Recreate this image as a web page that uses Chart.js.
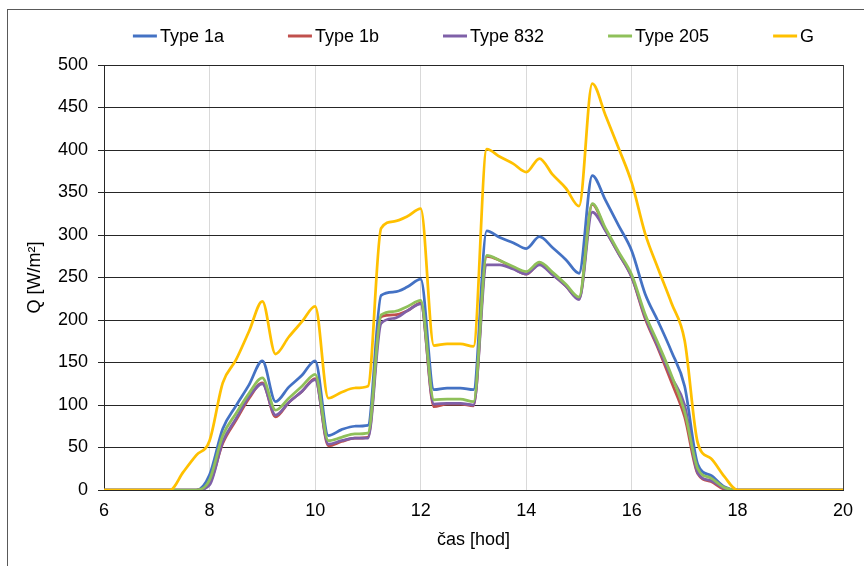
<!DOCTYPE html>
<html lang="cs">
<head>
    <meta charset="UTF-8" />
    <title>Q vs. čas</title>
    <style>
        body {
            margin: 0;
            background-color: #ffffff;
        }

        #wrap {
            width: 864px;
            height: 566px;
            position: relative;
        }
    </style>
</head>
<body>
<div id="wrap">
    <canvas id="chartContainer"></canvas>
</div>

<script src="https://cdn.jsdelivr.net/npm/chart.js"></script>
<script>
    // time of day [hod]
    const times = [6, 7, 7.25, 7.5, 7.75, 8, 8.25, 8.5, 8.75, 9, 9.25, 9.5, 9.75, 10,
        10.25, 10.5, 10.75, 11, 11.25, 11.5, 11.75, 12, 12.25, 12.5, 12.75, 13,
        13.25, 13.5, 13.75, 14, 14.25, 14.5, 14.75, 15, 15.25, 15.5, 15.75, 16,
        16.25, 16.5, 16.75, 17, 17.25, 17.5, 17.75, 18, 18.25, 19, 20];

    // Q [W/m2] per series
    const type1a = [0, 0, 0, 0, 0, 18, 72, 99, 124, 152, 104, 121, 135, 152,
        64, 71, 75, 76, 229, 233, 239, 248, 118, 120, 120, 118,
        305, 297, 291, 284, 298, 285, 271, 255, 370, 341, 311, 281,
        231, 198, 163, 122, 30, 17, 4, 0, 0, 0, 0];
    const type1b = [0, 0, 0, 0, 0, 8, 55, 82, 108, 126, 86, 103, 116, 131,
        52, 57, 61, 62, 204, 206, 211, 220, 98, 101, 101, 99,
        275, 270, 261, 254, 266, 254, 240, 225, 336, 306, 278, 250,
        202, 166, 127, 86, 19, 10, 1, 0, 0, 0, 0];
    const type832 = [0, 0, 0, 0, 0, 6, 57, 84, 110, 125, 88, 103, 116, 130,
        54, 58, 61, 61, 196, 202, 211, 219, 101, 102, 102, 100,
        265, 265, 260, 254, 265, 253, 240, 224, 327, 305, 278, 250,
        204, 168, 133, 100, 20, 11, 2, 0, 0, 0, 0];
    const type205 = [0, 0, 0, 0, 0, 12, 64, 90, 114, 132, 94, 108, 122, 136,
        58, 62, 66, 67, 206, 210, 216, 223, 106, 107, 107, 104,
        276, 270, 263, 257, 268, 256, 242, 227, 337, 308, 280, 253,
        207, 172, 135, 92, 25, 14, 3, 0, 0, 0, 0];
    const gValues = [0, 0, 0, 21, 41, 58, 126, 153, 187, 222, 160, 180, 198, 216,
        108, 115, 120, 122, 308, 316, 322, 331, 170, 172, 172, 169,
        401, 392, 384, 374, 390, 371, 355, 334, 478, 441, 402, 361,
        302, 260, 220, 176, 55, 37, 16, 0, 0, 0, 0];

    const seriesNames = ["Type 1a", "Type 1b", "Type 832", "Type 205", "G"];
    const seriesData = [type1a, type1b, type832, type205, gValues];
    const seriesColors = ["#4472C4", "#C0504D", "#7F60A8", "#8FC05A", "#FFC000"];

    const xTicks = [6, 8, 10, 12, 14, 16, 18, 20];
    const yTicks = [0, 50, 100, 150, 200, 250, 300, 350, 400, 450, 500];

    const FONT = "'Liberation Sans', Arial, sans-serif";
    const FONT_SIZE = 18;

    // outer frame of the chart object
    const framePlugin = {
        id: "frame",
        beforeDraw(chart) {
            const ctx = chart.ctx;
            ctx.save();
            ctx.fillStyle = "#ffffff";
            ctx.fillRect(0, 0, chart.width, chart.height);
            ctx.strokeStyle = "#595959";
            ctx.lineWidth = 1;
            ctx.strokeRect(7.5, 9.5, chart.width + 20, chart.height + 20);
            ctx.restore();
        },
    };

    // legend drawn like Excel: short line + label, centered over plot area
    const legendPlugin = {
        id: "excelLegend",
        afterDraw(chart) {
            const ctx = chart.ctx;
            const area = chart.chartArea;
            const lineLen = 24, gap = 3, spacing = 64, y = 36;
            ctx.save();
            ctx.font = FONT_SIZE + "px " + FONT;
            const widths = seriesNames.map(n => lineLen + gap + ctx.measureText(n).width);
            const total = widths.reduce((a, b) => a + b, 0) + spacing * (widths.length - 1);
            let x = (area.left + area.right) / 2 - total / 2;
            seriesNames.forEach((name, i) => {
                ctx.strokeStyle = seriesColors[i];
                ctx.lineWidth = 3;
                ctx.beginPath();
                ctx.moveTo(x, y);
                ctx.lineTo(x + lineLen, y);
                ctx.stroke();
                ctx.fillStyle = "#000000";
                ctx.textBaseline = "middle";
                ctx.textAlign = "left";
                ctx.fillText(name, x + lineLen + gap, y + 1);
                x += widths[i] + spacing;
            });
            ctx.restore();
        },
    };

    function drawChart() {
        const ctx = document.getElementById("chartContainer").getContext("2d");

        window.myChart = new Chart(ctx, {
            type: "line",
            data: {
                datasets: seriesNames.map((name, i) => ({
                    label: name,
                    data: times.map((t, j) => ({ x: t, y: seriesData[i][j] })),
                    borderColor: seriesColors[i],
                    backgroundColor: seriesColors[i],
                    borderWidth: 2.75,
                    pointRadius: 0,
                    cubicInterpolationMode: "monotone",
                    order: seriesNames.length - i,
                })),
            },
            options: {
                responsive: true,
                maintainAspectRatio: false,
                animation: false,
                layout: {
                    padding: { left: 0, right: 21, top: 65, bottom: 0 },
                },
                plugins: {
                    legend: { display: false },
                    tooltip: { enabled: false },
                },
                scales: {
                    x: {
                        type: "linear",
                        min: 6,
                        max: 20,
                        afterFit(scale) { scale.height = 76; },
                        afterBuildTicks(scale) {
                            scale.ticks = xTicks.map(v => ({ value: v }));
                        },
                        ticks: {
                            font: { family: FONT, size: FONT_SIZE },
                            color: "#000000",
                            padding: 10,
                            maxRotation: 0,
                        },
                        grid: {
                            drawTicks: false,
                            color: c => (c.tick && (c.tick.value === 20 || c.tick.value === 6)) ? "#404040" : "#d9d9d9",
                            lineWidth: 1,
                        },
                        border: { display: true, color: "#262626" },
                        title: {
                            display: true,
                            text: "čas [hod]",
                            font: { family: FONT, size: FONT_SIZE },
                            color: "#000000",
                            padding: { top: 15, bottom: 15 },
                        },
                    },
                    y: {
                        min: 0,
                        max: 500,
                        afterFit(scale) { scale.width = 104; },
                        afterBuildTicks(scale) {
                            scale.ticks = yTicks.map(v => ({ value: v }));
                        },
                        ticks: {
                            font: { family: FONT, size: FONT_SIZE },
                            color: "#000000",
                            padding: 10,
                        },
                        grid: {
                            color: "#262626",
                            lineWidth: 1,
                            tickLength: 6,
                        },
                        border: { display: true, color: "#262626" },
                        title: {
                            display: true,
                            text: "Q [W/m²]",
                            font: { family: FONT, size: FONT_SIZE },
                            color: "#000000",
                            padding: { top: 24, bottom: 24 },
                        },
                    },
                },
            },
            plugins: [framePlugin, legendPlugin],
        });
    }

    window.onload = drawChart;
</script>
</body>
</html>
